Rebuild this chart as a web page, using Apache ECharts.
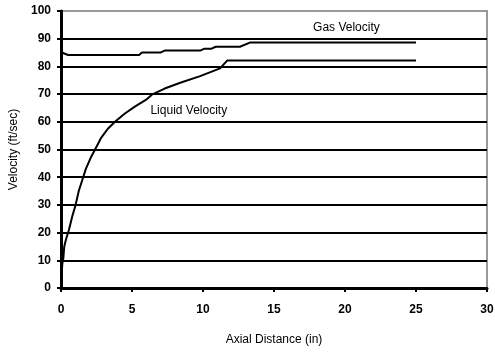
<!DOCTYPE html>
<html>
<head>
<meta charset="utf-8">
<script src="https://cdn.jsdelivr.net/npm/echarts@6/dist/echarts.min.js"></script>
<style>html,body{margin:0;padding:0;background:#fff}#c{width:495px;height:352px}</style>
</head>
<body>
<div id="c"></div>
<script>
// Axial distance (in) / velocity (ft/sec)
const liquidX = [0, 0.05, 0.1, 0.16, 0.23, 0.35, 0.56, 0.8, 1.03, 1.25, 1.5, 1.75, 2.09, 2.4, 2.8, 3.3, 3.8, 4.5, 5.2, 6.0, 6.4, 7.3, 8.4, 9.8, 11.2, 11.7, 25];
const liquidY = [3.5, 6, 9, 10.5, 15, 17.5, 21, 26, 30, 35, 39, 43, 47, 50, 54, 57.5, 60, 63, 65.5, 68, 69.8, 72, 74.1, 76.5, 79.3, 82.1, 82.1];
const gasX = [0, 0.5, 5.5, 5.7, 7, 7.3, 9.8, 10.1, 10.6, 10.9, 12.6, 13.3, 25];
const gasY = [85.1, 84.1, 84.1, 85, 85, 85.7, 85.7, 86.4, 86.4, 87.1, 87.1, 88.6, 88.6];
const xTicks = [0, 5, 10, 15, 20, 25, 30];
const yTicks = [0, 10, 20, 30, 40, 50, 60, 70, 80, 90, 100];
const seriesNames = ['Gas Velocity', 'Liquid Velocity'];
const labelPos = [[20.1, 93.9], [9.0, 64.0]];

const zip = (xs, ys) => xs.map((x, i) => [x, ys[i]]);
const font = 'Liberation Sans, Arial, sans-serif';

const chart = echarts.init(document.getElementById('c'), null, {renderer: 'canvas'});
const mkLabel = (i) => ({
  symbolSize: 0,
  silent: true,
  label: {show: true, position: 'inside', color: '#000', fontSize: 12, fontFamily: font, formatter: seriesNames[i]},
  data: [{coord: labelPos[i]}]
});
chart.setOption({
  animation: false,
  backgroundColor: '#fff',
  grid: {left: 61, right: 8, top: 11, bottom: 64, outerBoundsMode: 'none', show: true, borderColor: '#999', borderWidth: 2},
  xAxis: {
    type: 'value', min: xTicks[0], max: xTicks[xTicks.length - 1], interval: 5,
    name: 'Axial Distance (in)', nameLocation: 'middle', nameGap: 46,
    nameTextStyle: {color: '#000', fontSize: 12, fontFamily: font},
    axisLine: {lineStyle: {color: '#000', width: 3}},
    axisTick: {show: true, length: 4, lineStyle: {color: '#000', width: 2}},
    axisLabel: {color: '#000', fontSize: 12, fontWeight: 'bold', fontFamily: font, margin: 16},
    splitLine: {show: false}
  },
  yAxis: {
    type: 'value', min: yTicks[0], max: yTicks[yTicks.length - 1], interval: 10,
    name: 'Velocity (ft/sec)', nameLocation: 'middle', nameGap: 33,
    nameTextStyle: {color: '#000', fontSize: 12, fontFamily: font},
    axisLine: {show: true, lineStyle: {color: '#000', width: 3}},
    axisTick: {show: true, length: 4, lineStyle: {color: '#000', width: 2}},
    axisLabel: {color: '#000', fontSize: 12, fontWeight: 'bold', fontFamily: font, margin: 10},
    splitLine: {show: true, showMaxLine: false, lineStyle: {color: '#000', width: 2}}
  },
  series: [
    {name: seriesNames[0], type: 'line', data: zip(gasX, gasY), showSymbol: false, symbol: 'none',
     lineStyle: {color: '#000', width: 2}, markPoint: mkLabel(0)},
    {name: seriesNames[1], type: 'line', data: zip(liquidX, liquidY), showSymbol: false, symbol: 'none',
     lineStyle: {color: '#000', width: 2}, markPoint: mkLabel(1)}
  ]
});
</script>
</body>
</html>
